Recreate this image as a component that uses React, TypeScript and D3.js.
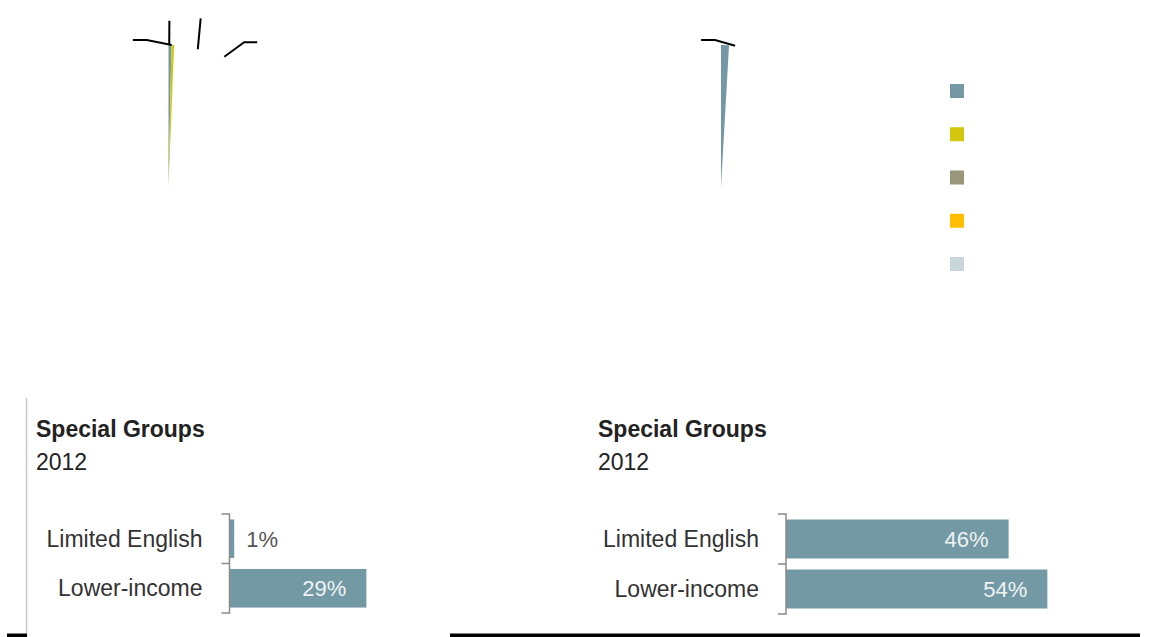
import React from "react";
import * as d3 from "d3";

// legend swatches (labels are empty in the source)
const legendColors = ["#7499a5", "#d2c70d", "#9a967a", "#ffbf00", "#c8d6dc"];

// pie slices, percent of the whole (only tiny slivers are drawn)
const leftPieValues = [0.33, 0.3];
const leftPieColors = ["#7499a5", "#d2c70d"];
const rightPieValues = [0.9];
const rightPieColors = ["#7499a5"];

// leader lines: [startDeg, startR, bendDeg, bendR, horizontal run]
const leftLeaders: number[][] = [
    [1.3, 142, -8.4, 148.6, -14],
    [0.3, 142, 0.3, 166.3, 0],
    [12.0, 140.8, 10.8, 171.7, 0],
    [23.2, 141.7, 27.6, 163.3, 13],
];
const rightLeaders: number[][] = [[5.7, 142, -2.3, 147.1, -14]];

// special groups bars
const categories = ["Limited English", "Lower-income"];
const leftValues = [1, 29];
const rightValues = [46, 54];
const subtitle = "2012";

const FONT = "'Liberation Sans', Arial, sans-serif";

function Pie({ cx, cy, values, colors, leaders }: {
    cx: number; cy: number; values: number[]; colors: string[]; leaders: number[][];
}) {
    const radius = 142;
    const rows = values.map((v, i) => ({ v, color: colors[i] }));
    rows.push({ v: 100 - d3.sum(values), color: "none" });
    const pie = d3.pie<{ v: number; color: string }>().sort(null).value((d) => d.v);
    const arc = d3.arc<d3.PieArcDatum<{ v: number; color: string }>>()
        .innerRadius(0)
        .outerRadius(radius);
    const rad = (deg: number) => (deg * Math.PI) / 180;

    return (
        <g transform={`translate(${cx},${cy})`}>
            {pie(rows).map((d, i) => (
                <path key={i} d={arc(d) || ""} fill={d.data.color} />
            ))}
            {leaders.map((l, i) => {
                const [sx, sy] = d3.pointRadial(rad(l[0]), l[1]);
                const [bx, by] = d3.pointRadial(rad(l[2]), l[3]);
                const line = d3.line()([[sx, sy], [bx, by], [bx + l[4], by]]);
                return (
                    <path key={"l" + i} d={line || ""} fill="none" stroke="#000" strokeWidth={2} />
                );
            })}
        </g>
    );
}

function BarPanel({ titleX, axisX, spanPx, bottom, values }: {
    titleX: number; axisX: number; spanPx: number; bottom: number; values: number[];
}) {
    const x = d3.scaleLinear().domain([0, 100]).range([axisX, axisX + spanPx]);
    const y = d3.scaleBand<string>()
        .domain(categories)
        .range([514, bottom])
        .paddingInner(0.22)
        .paddingOuter(0.11);
    const top = 514;
    const mid = (y(categories[1]) as number) - (y.step() * y.paddingInner()) / 2;

    return (
        <g fontFamily={FONT}>
            <text x={titleX} y={437} fontSize={23} fontWeight="bold" fill="#222">Special Groups</text>
            <text x={titleX} y={470} fontSize={23} fill="#222">{subtitle}</text>
            {categories.map((c, i) => {
                const by = y(c) as number;
                const bw = x(values[i]) - axisX;
                const inside = bw > 40;
                return (
                    <g key={c}>
                        <text x={axisX - 27} y={by + y.bandwidth() / 2 + 8} textAnchor="end"
                            fontSize={23} fill="#333">{c}</text>
                        <rect x={axisX} y={by} width={bw} height={y.bandwidth()} fill="#7399a4" />
                        <text x={inside ? x(values[i]) - 20 : x(values[i]) + 12}
                            y={by + y.bandwidth() / 2 + 8}
                            textAnchor={inside ? "end" : "start"}
                            fontSize={22} fill={inside ? "#eef3f5" : "#555"}>{values[i]}%</text>
                    </g>
                );
            })}
            <path d={`M${axisX - 8},${top}H${axisX}V${bottom}H${axisX - 8}M${axisX - 8},${mid}H${axisX}`}
                fill="none" stroke="#8a8a8a" strokeWidth={1.5} />
        </g>
    );
}

export default function App() {
    const legendY = d3.scaleLinear().domain([0, 4]).range([84, 257]);
    return (
        <svg width={1158} height={637} style={{ position: "absolute", left: 0, top: 0, background: "#fff" }}>
            <Pie cx={168.5} cy={187} values={leftPieValues} colors={leftPieColors} leaders={leftLeaders} />
            <Pie cx={721} cy={187} values={rightPieValues} colors={rightPieColors} leaders={rightLeaders} />
            {legendColors.map((c, i) => (
                <rect key={c} x={950} y={legendY(i)} width={14} height={14} fill={c} />
            ))}
            <line x1={26.5} x2={26.5} y1={398} y2={637} stroke="#c8c8c8" strokeWidth={1.5} />
            <rect x={7} y={633.5} width={20} height={3.5} fill="#000" />
            <rect x={450} y={633.5} width={690} height={3.5} fill="#000" />
            <BarPanel titleX={36} axisX={229.5} spanPx={472} bottom={613} values={leftValues} />
            <BarPanel titleX={598} axisX={786} spanPx={484} bottom={614} values={rightValues} />
        </svg>
    );
}
